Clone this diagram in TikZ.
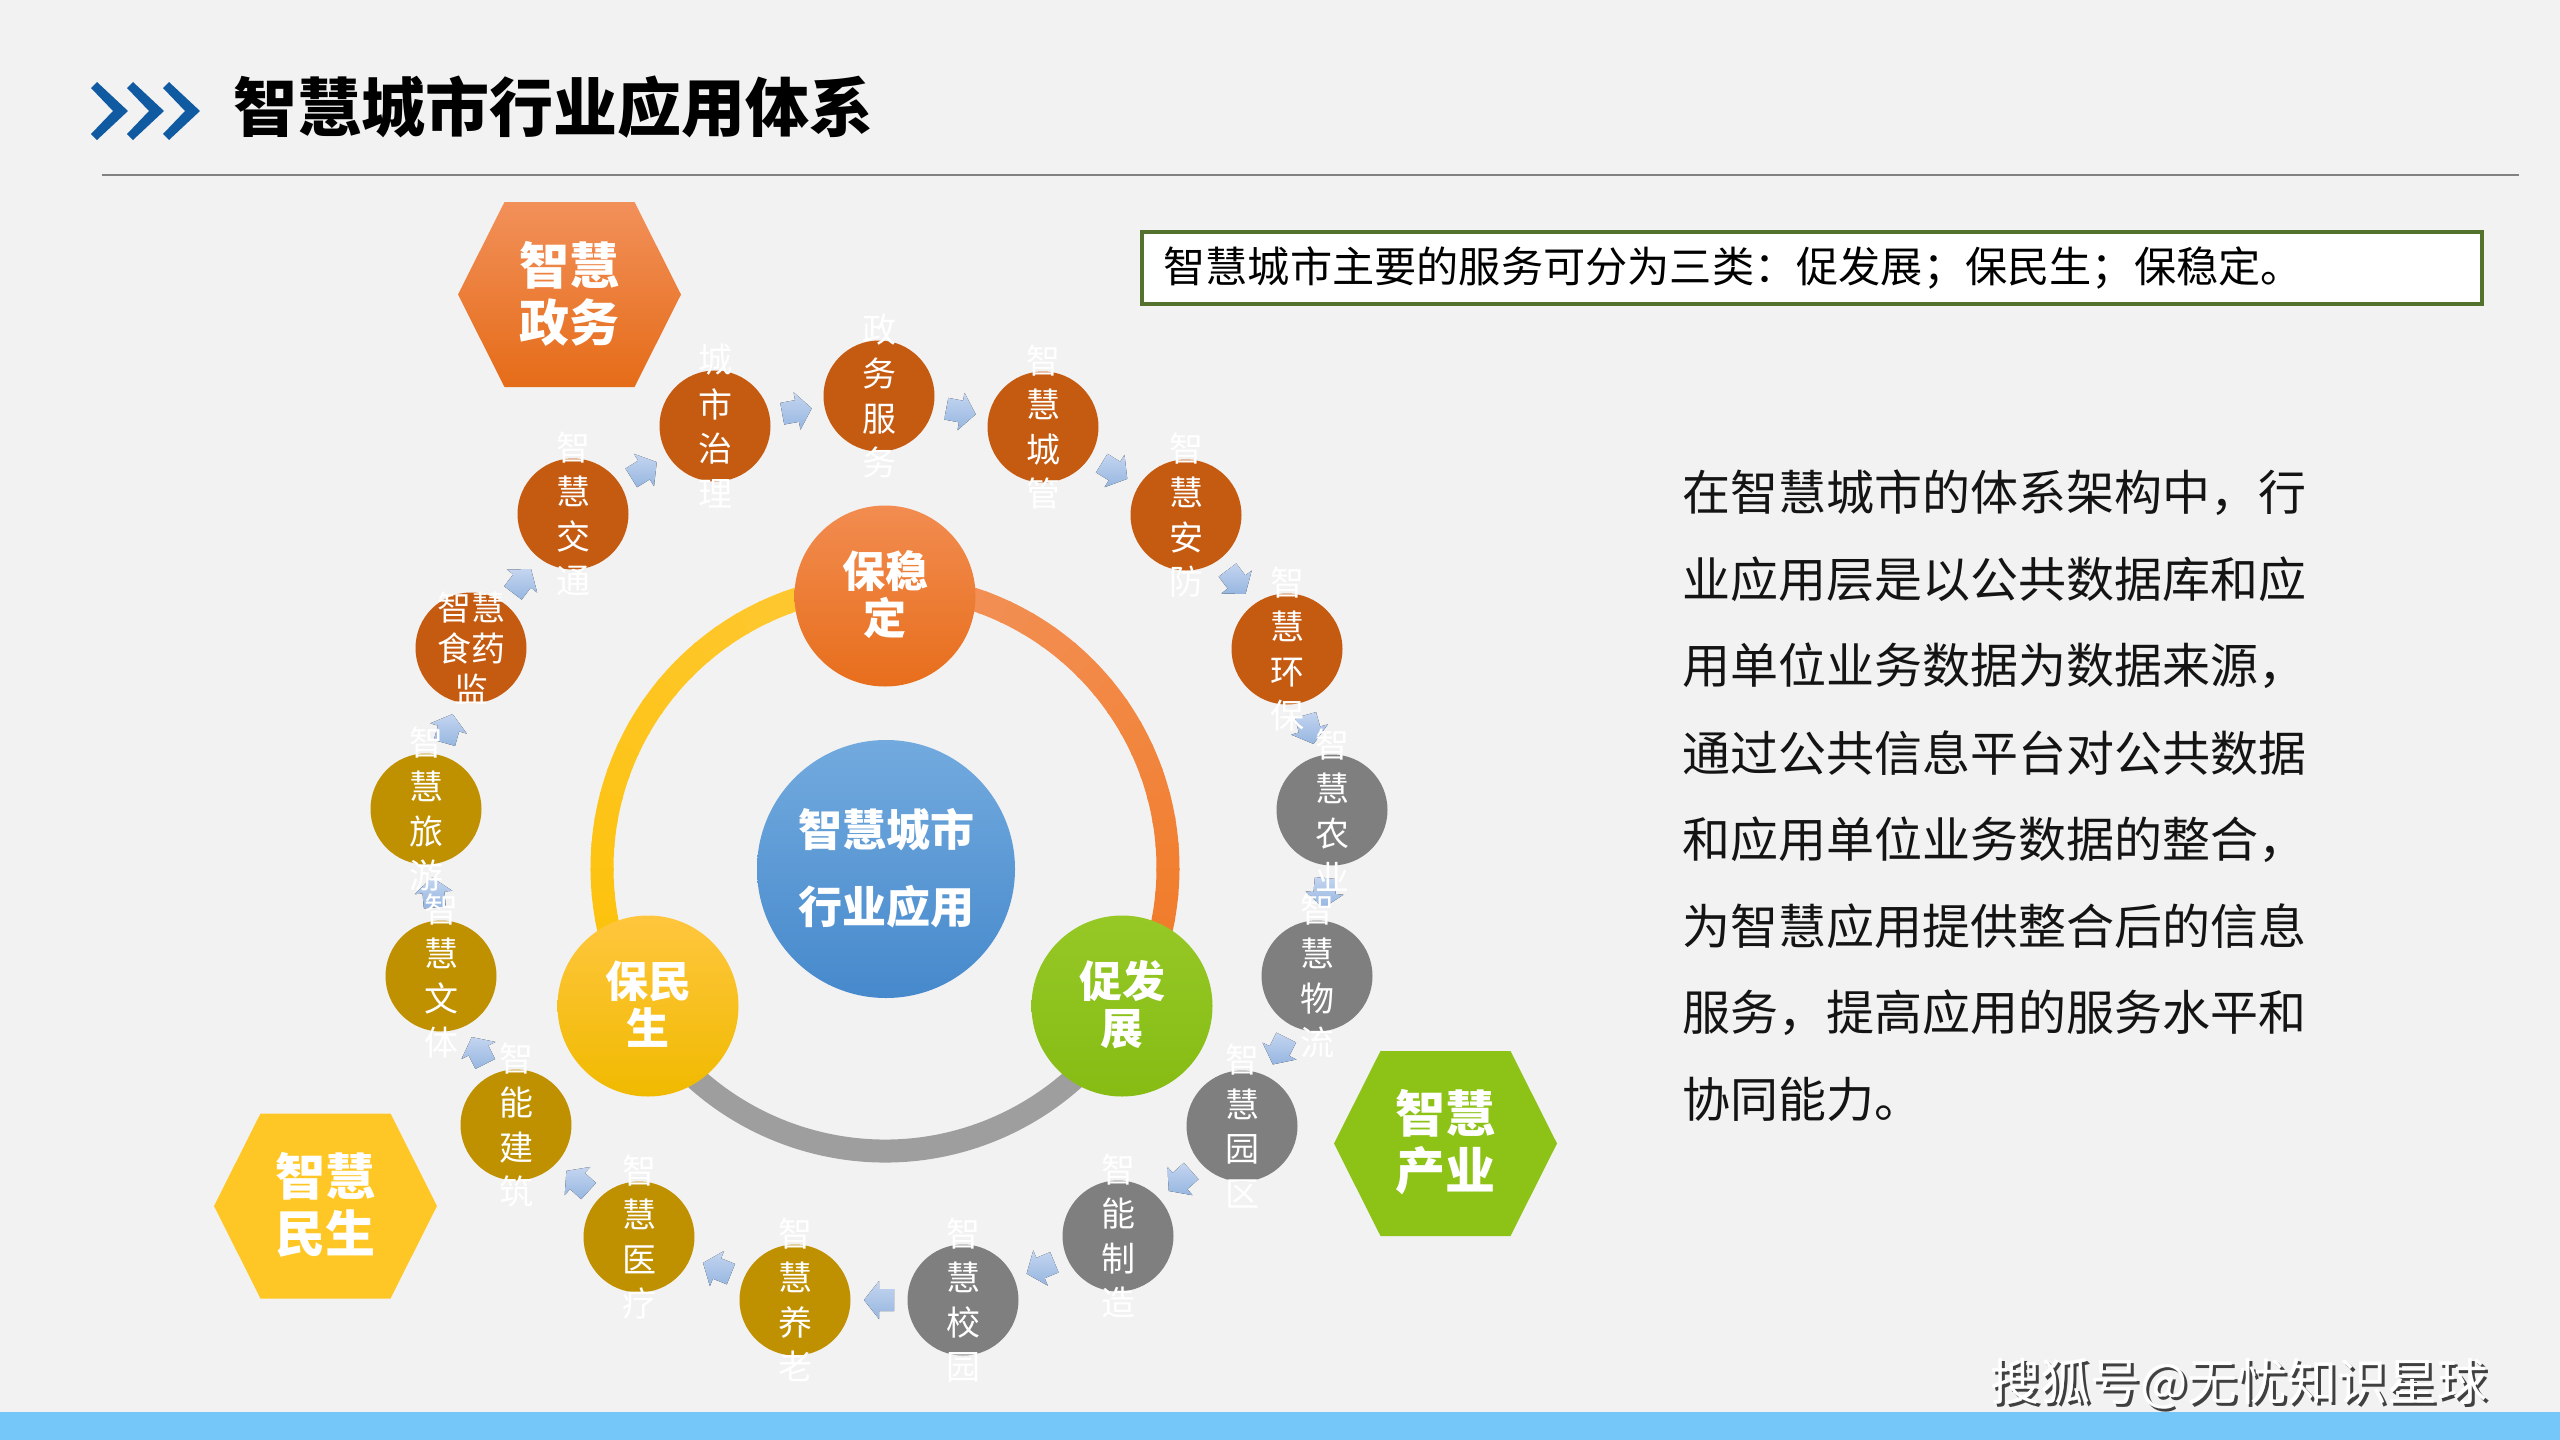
\documentclass[tikz,border=0pt]{standalone}
\usepackage{fontspec}
\setmainfont{Noto Sans CJK SC}
\usetikzlibrary{calc}
\definecolor{bgc}{RGB}{242,242,242}
\definecolor{barc}{RGB}{117,199,250}
\definecolor{chev}{RGB}{16,90,162}
\definecolor{rulec}{RGB}{130,130,130}
\definecolor{boxc}{RGB}{84,114,46}
\definecolor{txtc}{RGB}{20,20,20}
\definecolor{orA}{RGB}{243,146,92}
\definecolor{orB}{RGB}{240,122,36}
\definecolor{yeA}{RGB}{255,200,52}
\definecolor{yeB}{RGB}{252,194,8}
\definecolor{grR}{RGB}{158,158,158}
\definecolor{stT}{RGB}{242,140,80}
\definecolor{stB}{RGB}{231,110,28}
\definecolor{msT}{RGB}{255,198,62}
\definecolor{msB}{RGB}{240,186,0}
\definecolor{fzT}{RGB}{150,200,38}
\definecolor{fzB}{RGB}{134,188,20}
\definecolor{ctT}{RGB}{114,170,222}
\definecolor{ctB}{RGB}{70,137,204}
\definecolor{hzT}{RGB}{242,144,90}
\definecolor{hzB}{RGB}{229,108,24}
\definecolor{hms}{RGB}{255,199,38}
\definecolor{hcy}{RGB}{141,194,22}
\definecolor{cOr}{RGB}{197,90,17}
\definecolor{cGr}{RGB}{127,127,127}
\definecolor{cGd}{RGB}{191,144,0}
\definecolor{arT}{RGB}{196,213,240}
\definecolor{arB}{RGB}{150,182,224}
\newcommand\hexshape[2]{%
  \path[#2] ($(#1)+(-111.5,0)$) -- ($(#1)+(-65,-92.5)$) -- ($(#1)+(65,-92.5)$)
    -- ($(#1)+(111.5,0)$) -- ($(#1)+(65,92.5)$) -- ($(#1)+(-65,92.5)$) -- cycle;}
\newcommand\flowarrow[3]{%
  \coordinate (#1) at ($(#2)!0.5!(#3)$);
  \pgfmathanglebetweenpoints{\pgfpointanchor{#2}{center}}{\pgfpointanchor{#3}{center}}%
  \let\arrang\pgfmathresult
  \fill[blockarr, shift={(#1)}, rotate=\arrang] (-7.5pt,-5.5pt) -- (0pt,-5.5pt) -- (0pt,-9.5pt)
    -- (7.5pt,0pt) -- (0pt,9.5pt) -- (0pt,5.5pt) -- (-7.5pt,5.5pt) -- cycle;}
\begin{document}
\begin{tikzpicture}[x=0.5pt,y=-0.5pt,
  sc/.style={circle, minimum size=55.5pt, inner sep=0pt, fill=#1},
  lbl/.style={font=\fontsize{17pt}{22.25pt}\selectfont, text=white, align=center, inner sep=0pt},
  lblb/.style={font=\fontsize{17pt}{20.5pt}\selectfont, text=white, align=center, inner sep=0pt},
  bigc/.style={circle, minimum size=90.5pt, inner sep=0pt},
  bigt/.style={font=\bfseries\fontsize{21.5pt}{23.5pt}\selectfont, text=white, align=center, inner sep=0pt},
  cent/.style={font=\bfseries\fontsize{22pt}{38.5pt}\selectfont, text=white, align=center, inner sep=0pt},
  hext/.style={font=\bfseries\fontsize{25pt}{28.5pt}\selectfont, text=white, align=center, inner sep=0pt},
  para/.style={font=\fontsize{24pt}{28pt}\selectfont, text=txtc, anchor=west, inner sep=0pt},
  wm/.style={font=\fontsize{25pt}{30pt}\selectfont, inner sep=0pt},
  blockarr/.style={top color=arT, bottom color=arB, draw=none}]
\useasboundingbox (0,0) rectangle (2560,1440);
\fill[bgc] (0,0) rectangle (2560,1440);
\fill[barc] (0,1412) rectangle (2560,1440);
% title
\foreach \dx in {0,36,72}{
  \fill[chev] (91+\dx,88) -- (97+\dx,82) -- (128+\dx,111) -- (97+\dx,140) -- (91+\dx,134) -- (113+\dx,111) -- cycle;}
\node[font=\bfseries\fontsize{32pt}{38pt}\selectfont, anchor=west, inner sep=0pt] (title) at (233,107) {智慧城市行业应用体系};
\draw[rulec, line width=1.4pt] (102,175) -- (2519,175);
% box
\node[draw=boxc, line width=2pt, fill=white, minimum width=670pt, minimum height=36pt, inner sep=0pt] (box) at (1812,268) {};
\node[font=\fontsize{21.1pt}{25pt}\selectfont, anchor=west, inner sep=0pt] (boxt) at (1163,268) {智慧城市主要的服务可分为三类：促发展；保民生；保稳定。};
% paragraph
\node[para] (p1) at (1682,493.0) {在智慧城市的体系架构中，行};
\node[para] (p2) at (1682,579.6) {业应用层是以公共数据库和应};
\node[para] (p3) at (1682,666.2) {用单位业务数据为数据来源，};
\node[para] (p4) at (1682,752.8) {通过公共信息平台对公共数据};
\node[para] (p5) at (1682,839.4) {和应用单位业务数据的整合，};
\node[para] (p6) at (1682,926.0) {为智慧应用提供整合后的信息};
\node[para] (p7) at (1682,1012.6) {服务，提高应用的服务水平和};
\node[para] (p8) at (1682,1099.2) {协同能力。};
% ring
\coordinate (rc) at (885,868);
\foreach \a in {0,...,23}{
  \pgfmathsetmacro\sa{90-5*\a}\pgfmathsetmacro\ea{90-5*(\a+1)-0.6}\pgfmathtruncatemacro\m{100*\a/23}
  \draw[line width=11.5pt, color=orB!\m!orA] ([shift={(\sa:141.5pt)}]rc) arc[start angle=\sa, end angle=\ea, radius=141.5pt];
  \pgfmathsetmacro\sb{90+5*\a}\pgfmathsetmacro\eb{90+5*(\a+1)+0.6}
  \draw[line width=11.5pt, color=yeB!\m!yeA] ([shift={(\sb:141.5pt)}]rc) arc[start angle=\sb, end angle=\eb, radius=141.5pt];
}
\draw[line width=11.5pt, color=grR] ([shift={(210:141.5pt)}]rc) arc[start angle=210, end angle=330, radius=141.5pt];
% big circles
\node[bigc, top color=stT, bottom color=stB] (bwd) at (885,596) {};
\node[bigt] (bwdt) at (885,594.5) {保稳\\定};
\node[bigc, top color=msT, bottom color=msB] (bms) at (648,1006) {};
\node[bigt] (bmst) at (648,1004.5) {保民\\生};
\node[bigc, top color=fzT, bottom color=fzB] (cfz) at (1122,1006) {};
\node[bigt] (cfzt) at (1122,1004.5) {促发\\展};
\node[circle, minimum size=129pt, inner sep=0pt, top color=ctT, bottom color=ctB] (ctr) at (886,869) {};
\node[cent] (ctrt) at (886,868.5) {智慧城市\\行业应用};
% hexagons
\coordinate (hz) at (569.5,294.5);
\coordinate (hm) at (325.5,1206);
\coordinate (hc) at (1445.5,1143.5);
\hexshape{hz}{top color=hzT, bottom color=hzB}
\hexshape{hm}{fill=hms}
\hexshape{hc}{fill=hcy}
\node[hext] (hzt) at (569.5,293.5) {智慧\\政务};
\node[hext] (hmt) at (325.5,1204.5) {智慧\\民生};
\node[hext] (hct) at (1445.5,1142) {智慧\\产业};
% small circles
\node[sc=cOr] (c1) at (471,648) {};
\node[sc=cOr] (c2) at (573,514) {};
\node[sc=cOr] (c3) at (715,426) {};
\node[sc=cOr] (c4) at (879,396) {};
\node[sc=cOr] (c5) at (1043,427) {};
\node[sc=cOr] (c6) at (1186,515) {};
\node[sc=cOr] (c7) at (1287,649) {};
\node[sc=cGr] (c8) at (1332,810) {};
\node[sc=cGr] (c9) at (1317,976) {};
\node[sc=cGr] (c10) at (1242,1126) {};
\node[sc=cGr] (c11) at (1118,1236) {};
\node[sc=cGr] (c12) at (963,1300) {};
\node[sc=cGd] (c13) at (795,1300) {};
\node[sc=cGd] (c14) at (639,1237) {};
\node[sc=cGd] (c15) at (516,1125) {};
\node[sc=cGd] (c16) at (441,976) {};
\node[sc=cGd] (c17) at (426,809) {};
% arrows
\flowarrow{a1}{c1}{c2}
\flowarrow{a2}{c2}{c3}
\flowarrow{a3}{c3}{c4}
\flowarrow{a4}{c4}{c5}
\flowarrow{a5}{c5}{c6}
\flowarrow{a6}{c6}{c7}
\flowarrow{a7}{c7}{c8}
\flowarrow{a8}{c8}{c9}
\flowarrow{a9}{c9}{c10}
\flowarrow{a10}{c10}{c11}
\flowarrow{a11}{c11}{c12}
\flowarrow{a12}{c12}{c13}
\flowarrow{a13}{c13}{c14}
\flowarrow{a14}{c14}{c15}
\flowarrow{a15}{c15}{c16}
\flowarrow{a16}{c16}{c17}
\flowarrow{a17}{c17}{c1}
% labels
\node[lblb] (t1) at (c1) {智慧\\食药\\监};
\node[lbl] (t2) at (c2) {智\\慧\\交\\通};
\node[lbl] (t3) at (c3) {城\\市\\治\\理};
\node[lbl] (t4) at (c4) {政\\务\\服\\务};
\node[lbl] (t5) at (c5) {智\\慧\\城\\管};
\node[lbl] (t6) at (c6) {智\\慧\\安\\防};
\node[lbl] (t7) at (c7) {智\\慧\\环\\保};
\node[lbl] (t8) at (c8) {智\\慧\\农\\业};
\node[lbl] (t9) at (c9) {智\\慧\\物\\流};
\node[lbl] (t10) at (c10) {智\\慧\\园\\区};
\node[lbl] (t11) at (c11) {智\\能\\制\\造};
\node[lbl] (t12) at (c12) {智\\慧\\校\\园};
\node[lbl] (t13) at (c13) {智\\慧\\养\\老};
\node[lbl] (t14) at (c14) {智\\慧\\医\\疗};
\node[lbl] (t15) at (c15) {智\\能\\建\\筑};
\node[lbl] (t16) at (c16) {智\\慧\\文\\体};
\node[lbl] (t17) at (c17) {智\\慧\\旅\\游};
% watermark
\node[wm, text=black!75] (wms) at (2242,1387) {搜狐号@无忧知识星球};
\node[wm, text=white] (wmt) at (2239,1384) {搜狐号@无忧知识星球};
\end{tikzpicture}
\end{document}
